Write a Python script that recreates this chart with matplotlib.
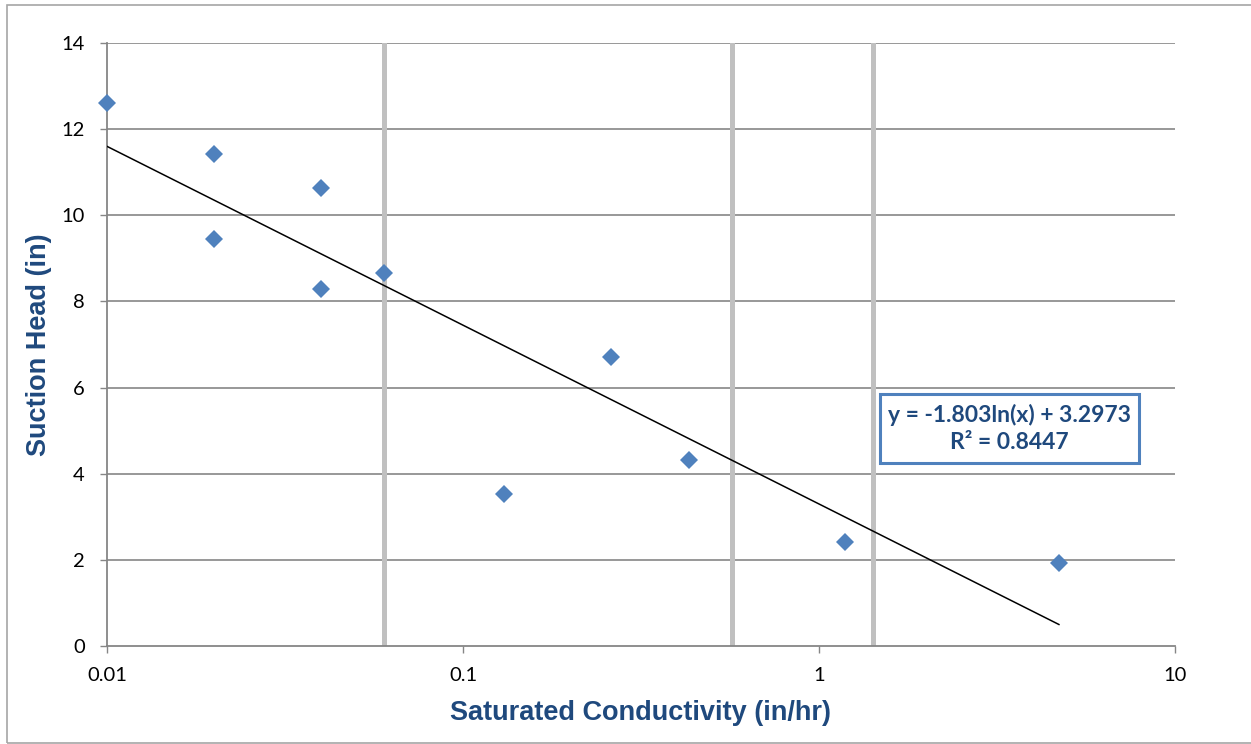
import numpy as np
import matplotlib.pyplot as plt
from matplotlib.patches import Rectangle

# saturated conductivity (in/hr) and suction head (in)
conductivity = [0.01, 0.02, 0.02, 0.04, 0.04, 0.06, 0.13, 0.26, 0.43, 1.18, 4.72]
suction_head = [12.6, 11.42, 9.46, 10.63, 8.28, 8.67, 3.52, 6.71, 4.33, 2.41, 1.93]

# vertical reference lines (class boundaries)
ref_lines = [0.06, 0.57, 1.42]

# log trend line from the reference
slope = -1.803
intercept = 3.2973
r_squared = 0.8447

x_ticks = [0.01, 0.1, 1, 10]
x_tick_labels = ["0.01", "0.1", "1", "10"]
y_ticks = [0, 2, 4, 6, 8, 10, 12, 14]

BLUE = "#4F81BD"
TITLE_BLUE = "#1F497D"
GRID = "#868686"

fig = plt.figure(figsize=(12.51, 7.44), dpi=100)
W, H = 1251.0, 744.0

# outer chart border
fig.patches.append(Rectangle((6.5 / W, 1.5 / H), 1.2, (742.5 - 5) / H,
                             transform=fig.transFigure, fill=False,
                             edgecolor="#A6A6A6", linewidth=1.2))

ax = fig.add_axes([107 / W, (H - 646) / H, 1068 / W, 603 / H])
ax.set_xscale("log")
ax.set_xlim(0.01, 10)
ax.set_ylim(0, 14)

for y in y_ticks[1:]:
    ax.axhline(y, color=GRID, linewidth=1.2, zorder=1)

for xv in ref_lines:
    ax.axvline(xv, color="#C0C0C0", linewidth=3.6, zorder=2)

xs = np.logspace(np.log10(min(conductivity)), np.log10(max(conductivity)), 200)
ax.plot(xs, slope * np.log(xs) + intercept, color="black", linewidth=1.1, zorder=3)

ax.plot(conductivity, suction_head, linestyle="none", marker="D", markersize=9.5,
        color=BLUE, markeredgewidth=0, zorder=4, clip_on=False)

for side in ["top", "right"]:
    ax.spines[side].set_visible(False)
for side in ["left", "bottom"]:
    ax.spines[side].set_color(GRID)
    ax.spines[side].set_linewidth(1.3)

ax.set_xticks(x_ticks)
ax.set_xticklabels(x_tick_labels)
ax.xaxis.set_minor_locator(plt.NullLocator())
ax.set_yticks(y_ticks)
ax.tick_params(axis="both", direction="out", length=5, width=1, color=GRID,
               labelsize=14.5, labelcolor="black")
ax.tick_params(axis="x", pad=10)
ax.tick_params(axis="y", pad=11)
for lab in ax.get_xticklabels() + ax.get_yticklabels():
    lab.set_fontfamily("Lato")

ax.set_xlabel("Saturated Conductivity (in/hr)", fontsize=19.5, fontweight="bold",
              color=TITLE_BLUE, family="Liberation Sans", labelpad=12)
ax.set_ylabel("Suction Head (in)", fontsize=19.5, fontweight="bold",
              color=TITLE_BLUE, family="Liberation Sans", labelpad=7)

# trend line equation box
ax.add_patch(Rectangle((773 / 1068, 183 / 603), 259 / 1068, 69 / 603,
                       transform=ax.transAxes, facecolor="white",
                       edgecolor=BLUE, linewidth=2.2, zorder=5))
ax.text(902.5 / 1068, 217.5 / 603,
        "y = %.3fln(x) + %.4f\nR² = %.4f" % (slope, intercept, r_squared),
        transform=ax.transAxes, ha="center", va="center", fontsize=16.5,
        fontweight="bold", color=TITLE_BLUE, family="Lato",
        linespacing=1.35, zorder=6)

fig.savefig("out.png", dpi=100)
